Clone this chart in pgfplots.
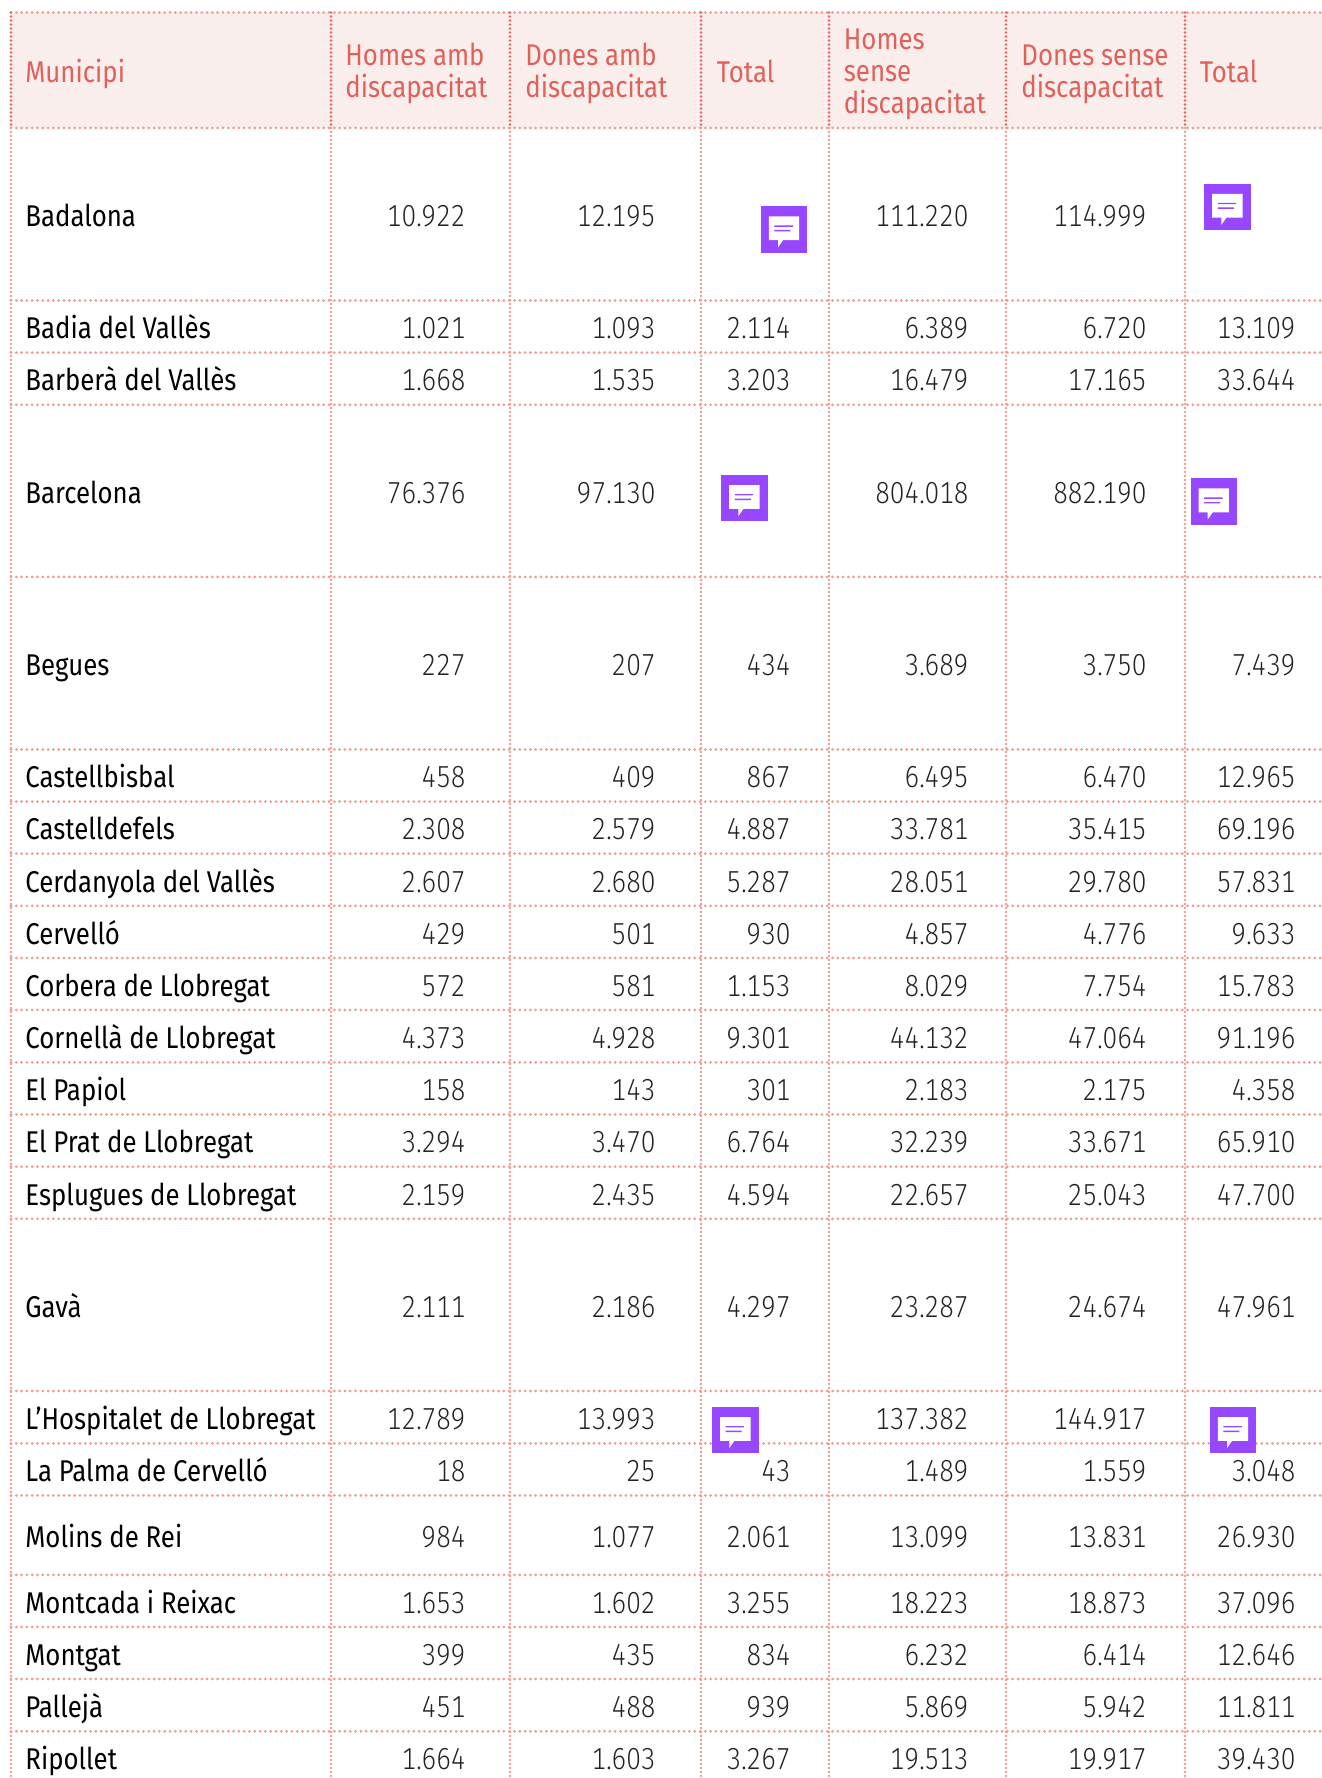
\documentclass[border=0pt]{standalone}
\usepackage{fontspec}
\setmainfont{Fira Sans}[FakeStretch=0.86]
\newfontfamily\lightf{Fira Sans Light}[FakeStretch=0.86,Numbers=Monospaced]
\usepackage{pgfplots}
\usepackage{pgfplotstable}
\pgfplotsset{compat=1.18}
\usetikzlibrary{plotmarks}

\definecolor{hdrbg}{HTML}{FAEEEC}
\definecolor{hdrtxt}{HTML}{E0605A}
\definecolor{gridc}{HTML}{F09A8E}
\definecolor{gridd}{HTML}{E8605A}
\definecolor{icon}{HTML}{9747FF}
\definecolor{numc}{HTML}{222222}

% speech bubble icon, coordinates in half pixels
\pgfdeclareplotmark{note}{%
  \pgfsetfillcolor{icon}%
  \begingroup
  \pgfsetcornersarced{\pgfpoint{1.2pt}{1.2pt}}%
  \pgfpathrectangle{\pgfpoint{-11.6pt}{-11.6pt}}{\pgfpoint{23.2pt}{23.2pt}}%
  \pgfusepathqfill
  \endgroup
  \pgfsetfillcolor{white}%
  \pgfpathmoveto{\pgfpoint{-7.6pt}{6.6pt}}%
  \pgfpathlineto{\pgfpoint{7.6pt}{6.6pt}}%
  \pgfpathlineto{\pgfpoint{7.6pt}{-5.3pt}}%
  \pgfpathlineto{\pgfpoint{-0.5pt}{-5.3pt}}%
  \pgfpathlineto{\pgfpoint{-3pt}{-8.9pt}}%
  \pgfpathlineto{\pgfpoint{-3pt}{-5.3pt}}%
  \pgfpathlineto{\pgfpoint{-7.6pt}{-5.3pt}}%
  \pgfpathclose
  \pgfusepathqfill
  \pgfsetfillcolor{icon}%
  \pgfpathrectangle{\pgfpoint{-4.8pt}{1.4pt}}{\pgfpoint{9.2pt}{0.7pt}}%
  \pgfpathrectangle{\pgfpoint{-4.8pt}{-0.9pt}}{\pgfpoint{8pt}{0.7pt}}%
  \pgfusepathqfill
}

\pgfplotstableread[col sep=comma]{
y,name,hm,dm,tm,hs,ds,ts
214.3,Badalona,10.922,12.195,{},111.220,114.999,{}
326.5,Badia del Vallès,1.021,1.093,2.114,6.389,6.720,13.109
378.7,Barberà del Vallès,1.668,1.535,3.203,16.479,17.165,33.644
490.9,Barcelona,76.376,97.130,{},804.018,882.190,{}
663.3,Begues,227,207,434,3.689,3.750,7.439
775.5,Castellbisbal,458,409,867,6.495,6.470,12.965
827.6,Castelldefels,2.308,2.579,4.887,33.781,35.415,69.196
879.8,Cerdanyola del Vallès,2.607,2.680,5.287,28.051,29.780,57.831
932.0,Cervelló,429,501,930,4.857,4.776,9.633
984.0,Corbera de Llobregat,572,581,1.153,8.029,7.754,15.783
1036.2,Cornellà de Llobregat,4.373,4.928,9.301,44.132,47.064,91.196
1088.5,El Papiol,158,143,301,2.183,2.175,4.358
1140.6,El Prat de Llobregat,3.294,3.470,6.764,32.239,33.671,65.910
1192.8,Esplugues de Llobregat,2.159,2.435,4.594,22.657,25.043,47.700
1305.0,Gavà,2.111,2.186,4.297,23.287,24.674,47.961
1417.2,L’Hospitalet de Llobregat,12.789,13.993,{},137.382,144.917,{}
1469.5,La Palma de Cervelló,18,25,43,1.489,1.559,3.048
1535.2,Molins de Rei,984,1.077,2.061,13.099,13.831,26.930
1601.0,Montcada i Reixac,1.653,1.602,3.255,18.223,18.873,37.096
1653.0,Montgat,399,435,834,6.232,6.414,12.646
1705.0,Pallejà,451,488,939,5.869,5.942,11.811
1757.0,Ripollet,1.664,1.603,3.267,19.513,19.917,39.430
}\rows

\begin{document}
\begin{tikzpicture}
\begin{axis}[
    scale only axis,
    width=661pt,
    height=889pt,
    xmin=0, xmax=1322,
    ymin=0, ymax=1778,
    y dir=reverse,
    axis lines=none,
    set layers,
    clip=true,
    hline/.style={gridc, line width=1.5pt, line cap=round, dash pattern=on 0pt off 2.65pt},
    vline/.style={gridc, line width=1.3pt, line cap=round, dash pattern=on 0pt off 2pt},
    vdark/.style={gridd, line width=1.3pt, line cap=round, dash pattern=on 0pt off 2pt},
    numcol/.style={only marks, mark=none, point meta=explicit symbolic, nodes near coords,
        every node near coord/.append style={anchor=mid east, inner sep=0pt, yshift=-3.5pt, font=\lightf\fontsize{15.2}{16}\selectfont, text=numc}},
]
% header band
\addplot[fill=hdrbg, draw=none, on layer=axis background] coordinates {(11,12.5)(1322,12.5)(1322,128)(11,128)} \closedcycle;

% table rules
\pgfplotsinvokeforeach{12.5,128,300.5,352.6,404.8,577,749.5,801.6,853.7,905.9,958,1010,1062.4,1114.5,1166.7,1218.8,1391,1443.4,1495.5,1574.9,1627,1679,1731.3}{
  \addplot[hline] coordinates {(11,#1)(1322,#1)};
}
\pgfplotsinvokeforeach{11,331,510,701,829,1006,1185}{
  \addplot[vline] coordinates {(#1,128)(#1,1778)};
  \addplot[vdark] coordinates {(#1,12.5)(#1,128)};
}

% municipality names
\addplot[only marks, mark=none, point meta=explicit symbolic, nodes near coords,
    every node near coord/.append style={anchor=mid west, inner sep=0pt, yshift=-3.5pt, font=\fontsize{15}{16}\selectfont, text=black}]
    table[x expr=25, y=y, meta=name] {\rows};

% values, right aligned in their columns
\addplot[numcol] table[x expr=466, y=y, meta=hm] {\rows};
\addplot[numcol] table[x expr=656, y=y, meta=dm] {\rows};
\addplot[numcol] table[x expr=791, y=y, meta=tm] {\rows};
\addplot[numcol] table[x expr=969, y=y, meta=hs] {\rows};
\addplot[numcol] table[x expr=1147, y=y, meta=ds] {\rows};
\addplot[numcol] table[x expr=1296, y=y, meta=ts] {\rows};

% header text
\addplot[only marks, mark=none, point meta=explicit symbolic, nodes near coords,
    every node near coord/.append style={anchor=west, inner sep=0pt, align=left,
      font=\fontsize{15}{16}\selectfont, text=hdrtxt}]
    table[x=x, y=y, meta=t, col sep=comma] {
x,y,t
25,74.4,Municipi
345,73.5,{Homes amb\\discapacitat}
525,73.5,{Dones amb\\discapacitat}
716.5,71,Total
843.5,74.4,{Homes\\sense\\discapacitat}
1021,74,{Dones sense\\discapacitat}
1199.5,71,Total
};

% comment icons
\addplot[only marks, mark=note] coordinates {(784,229.6)(1227.4,207)(744.4,498.3)(1213.7,501.7)(735.3,1430.3)(1233,1430.3)};
\end{axis}
\pgfresetboundingbox
\path (current axis.south west) rectangle (current axis.north east);
\end{tikzpicture}
\end{document}
